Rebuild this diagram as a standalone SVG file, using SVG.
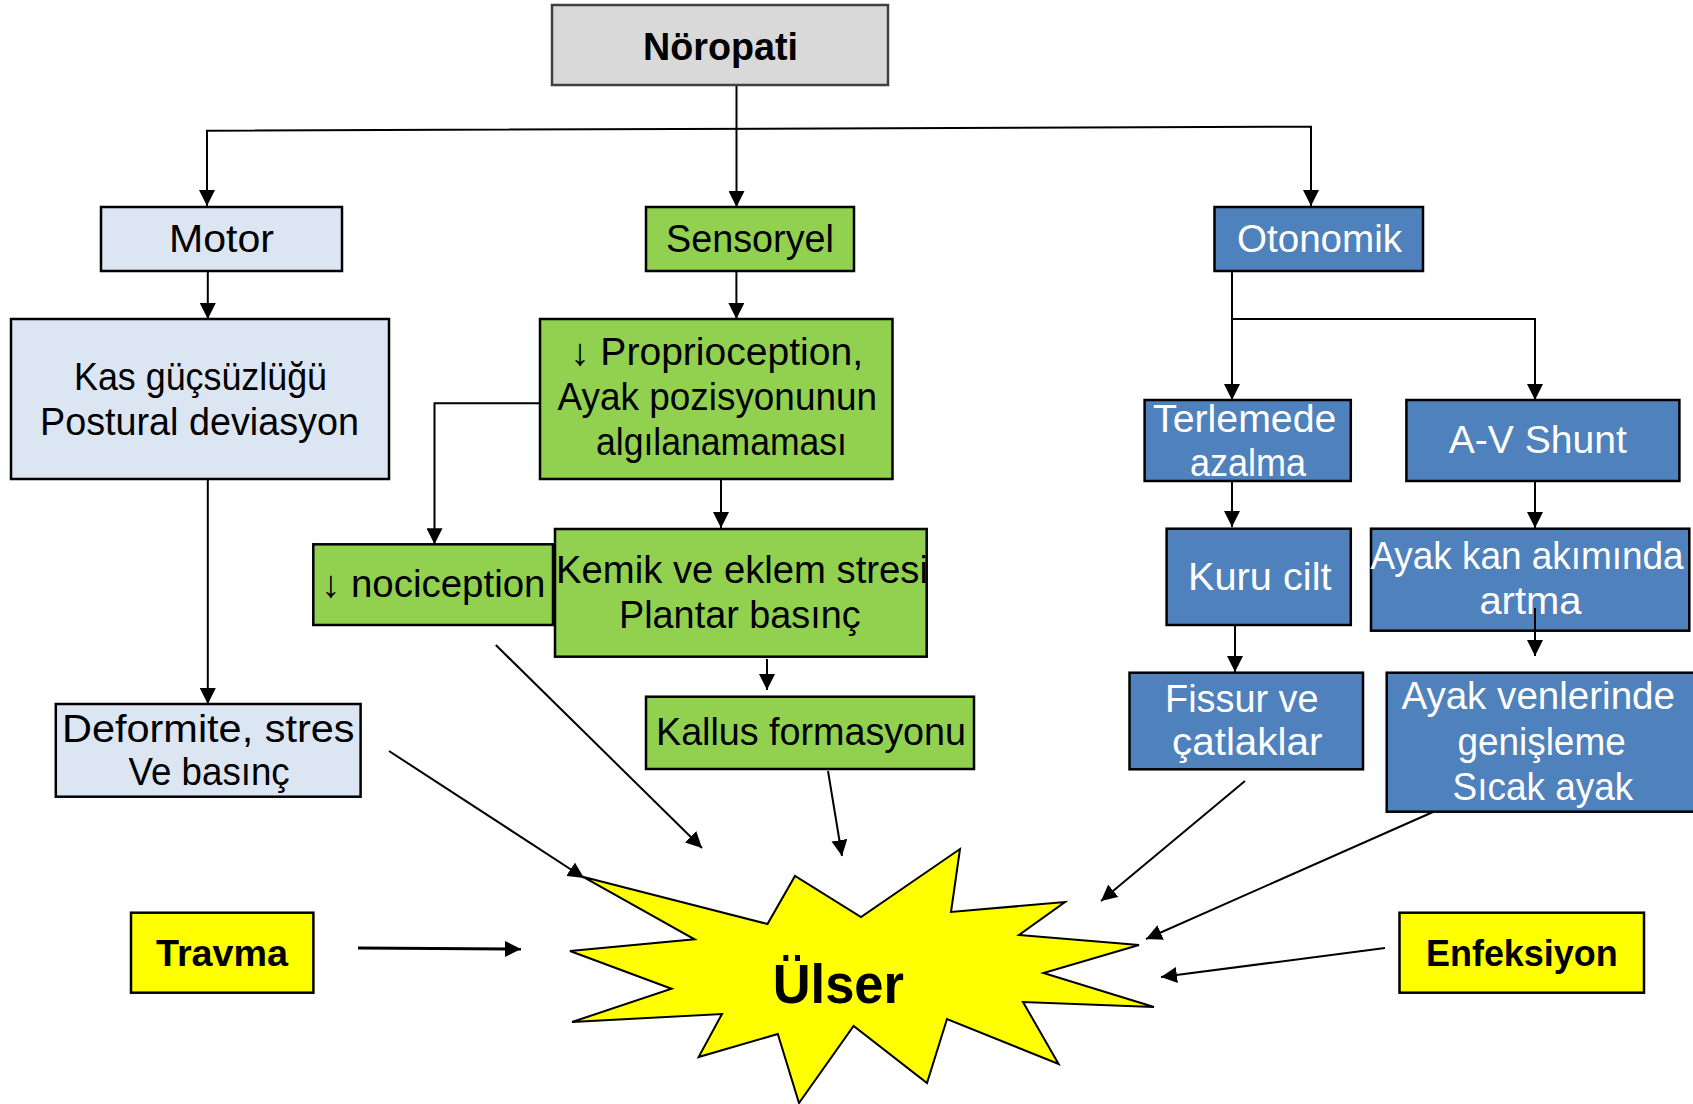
<svg xmlns="http://www.w3.org/2000/svg" width="1693" height="1104" viewBox="0 0 1693 1104">
<style>
.box{stroke:#000;stroke-width:2.5}
.gray{fill:#d9d9d9;stroke:#404040}
.lb{fill:#dce6f2}
.gr{fill:#92d050}
.bl{fill:#4f81bd}
.ye{fill:#ffff00}
.t{font-family:"Liberation Sans",Arial,sans-serif;font-size:38px;fill:#000}
.w{fill:#fff}
.b{font-weight:bold}
.c line,.c polyline{stroke:#000;stroke-width:2;fill:none}
</style>
<defs>
<marker id="ah" markerUnits="userSpaceOnUse" markerWidth="16" markerHeight="16" refX="16" refY="8" orient="auto">
<path d="M0,0 L16,8 L0,16 z" fill="#000"/>
</marker>
</defs>
<rect width="1693" height="1104" fill="#fff"/>

<g class="c">
<line x1="736.5" y1="85" x2="736.5" y2="207" marker-end="url(#ah)"/>
<polyline points="207,206 207,130.7 1311,126.7 1311,206" marker-end="url(#ah)"/>
<line x1="207" y1="131" x2="207" y2="206" marker-end="url(#ah)"/>
<line x1="207.8" y1="271" x2="207.8" y2="319" marker-end="url(#ah)"/>
<line x1="207.8" y1="479" x2="207.8" y2="704" marker-end="url(#ah)"/>
<line x1="736.4" y1="271" x2="736.4" y2="319" marker-end="url(#ah)"/>
<polyline points="540,403.3 434.5,403.3 434.5,544.3" marker-end="url(#ah)"/>
<line x1="721" y1="479" x2="721" y2="528" marker-end="url(#ah)"/>
<line x1="767" y1="659" x2="767" y2="690" marker-end="url(#ah)"/>
<line x1="389" y1="751" x2="584" y2="878" marker-end="url(#ah)"/>
<line x1="495.8" y1="645" x2="702" y2="848" marker-end="url(#ah)"/>
<line x1="828" y1="771" x2="842" y2="856" marker-end="url(#ah)"/>
<line x1="358" y1="948" x2="521" y2="949" style="stroke-width:3" marker-end="url(#ah)"/>
<line x1="1232" y1="271" x2="1232" y2="400" marker-end="url(#ah)"/>
<polyline points="1232,319 1535,319 1535,400" marker-end="url(#ah)"/>
<line x1="1232" y1="481" x2="1232" y2="527" marker-end="url(#ah)"/>
<line x1="1235" y1="625" x2="1235" y2="672" marker-end="url(#ah)"/>
<line x1="1535" y1="481" x2="1535" y2="528" marker-end="url(#ah)"/>
<line x1="1535" y1="608" x2="1535" y2="656" marker-end="url(#ah)"/>
<line x1="1245" y1="781" x2="1101" y2="901" marker-end="url(#ah)"/>
<line x1="1433" y1="812" x2="1146" y2="939" marker-end="url(#ah)"/>
<line x1="1385" y1="948" x2="1161" y2="977" marker-end="url(#ah)"/>
</g>

<g id="noropati">
<rect class="box gray" x="552" y="5" width="336" height="80"/>
<text class="t b" style="font-size:39px" x="643" y="60" textLength="155" lengthAdjust="spacingAndGlyphs">Nöropati</text>
</g>
<g id="motor">
<rect class="box lb" x="101" y="207" width="241" height="64"/>
<text class="t" x="169" y="252" textLength="105" lengthAdjust="spacingAndGlyphs">Motor</text>
</g>
<g id="sensoryel">
<rect class="box gr" x="646" y="207" width="208" height="64"/>
<text class="t" x="666" y="252" textLength="168" lengthAdjust="spacingAndGlyphs">Sensoryel</text>
</g>
<g id="otonomik">
<rect class="box bl" x="1214.5" y="207" width="208.5" height="64"/>
<text class="t w" x="1237" y="252" textLength="165" lengthAdjust="spacingAndGlyphs">Otonomik</text>
</g>
<g id="kas">
<rect class="box lb" x="11" y="319" width="378" height="160"/>
<text class="t" x="74" y="390" textLength="253" lengthAdjust="spacingAndGlyphs">Kas güçsüzlüğü</text>
<text class="t" x="40" y="435" textLength="319" lengthAdjust="spacingAndGlyphs">Postural deviasyon</text>
</g>
<g id="proprioception">
<rect class="box gr" x="540" y="319" width="352.5" height="160"/>
<text class="t" x="570" y="365" textLength="293" lengthAdjust="spacingAndGlyphs">↓ Proprioception,</text>
<text class="t" x="557.6" y="410" textLength="319.4" lengthAdjust="spacingAndGlyphs">Ayak pozisyonunun</text>
<text class="t" x="596" y="455" textLength="251" lengthAdjust="spacingAndGlyphs">algılanamaması</text>
</g>
<g id="nociception">
<rect class="box gr" x="313.3" y="544.3" width="239.7" height="80.7"/>
<text class="t" x="321" y="596.7" textLength="224.5" lengthAdjust="spacingAndGlyphs">↓ nociception</text>
</g>
<g id="kemik">
<rect class="box gr" x="555" y="529" width="371.7" height="127.7"/>
<text class="t" x="556" y="583.3" textLength="372" lengthAdjust="spacingAndGlyphs">Kemik ve eklem stresi</text>
<text class="t" x="619" y="628.3" textLength="241.6" lengthAdjust="spacingAndGlyphs">Plantar basınç</text>
</g>
<g id="kallus">
<rect class="box gr" x="646" y="696.7" width="328" height="72.3"/>
<text class="t" x="656" y="745" textLength="310" lengthAdjust="spacingAndGlyphs">Kallus formasyonu</text>
</g>
<g id="deformite">
<rect class="box lb" x="55.8" y="704" width="304.8" height="92.7"/>
<text class="t" x="62" y="741.7" textLength="292.5" lengthAdjust="spacingAndGlyphs">Deformite, stres</text>
<text class="t" x="128.5" y="785" textLength="161.2" lengthAdjust="spacingAndGlyphs">Ve basınç</text>
</g>
<g id="terlemede">
<rect class="box bl" x="1144.6" y="400" width="206.2" height="81"/>
<text class="t w" x="1153" y="431.7" textLength="183.4" lengthAdjust="spacingAndGlyphs">Terlemede</text>
<text class="t w" x="1190" y="475.7" textLength="116" lengthAdjust="spacingAndGlyphs">azalma</text>
</g>
<g id="kuru">
<rect class="box bl" x="1166.6" y="528.7" width="184.2" height="96.3"/>
<text class="t w" x="1188" y="590" textLength="143.5" lengthAdjust="spacingAndGlyphs">Kuru cilt</text>
</g>
<g id="fissur">
<rect class="box bl" x="1129.5" y="672.7" width="233.5" height="96.6"/>
<text class="t w" x="1165" y="711.7" textLength="153.6" lengthAdjust="spacingAndGlyphs">Fissur ve</text>
<text class="t w" x="1172" y="755" textLength="150.4" lengthAdjust="spacingAndGlyphs">çatlaklar</text>
</g>
<g id="avshunt">
<rect class="box bl" x="1406.4" y="400" width="273" height="81"/>
<text class="t w" x="1448.7" y="453.3" textLength="178.1" lengthAdjust="spacingAndGlyphs">A-V Shunt</text>
</g>
<g id="ayakkan">
<rect class="box bl" x="1371" y="528.7" width="318.3" height="102"/>
<text class="t w" x="1370.4" y="569.3" textLength="313.2" lengthAdjust="spacingAndGlyphs">Ayak kan akımında</text>
<text class="t w" x="1479.4" y="614" textLength="102.1" lengthAdjust="spacingAndGlyphs">artma</text>
</g>
<line x1="1535" y1="608" x2="1535" y2="631" stroke="#000" stroke-width="2"/>
<g id="ayakven">
<rect class="box bl" x="1386.7" y="672.7" width="310" height="139"/>
<text class="t w" x="1401.4" y="709.3" textLength="273.6" lengthAdjust="spacingAndGlyphs">Ayak venlerinde</text>
<text class="t w" x="1457.4" y="755" textLength="168.3" lengthAdjust="spacingAndGlyphs">genişleme</text>
<text class="t w" x="1452.5" y="800" textLength="180.8" lengthAdjust="spacingAndGlyphs">Sıcak ayak</text>
</g>
<g id="travma">
<rect class="box ye" x="131" y="912.7" width="182.4" height="80"/>
<text class="t b" style="font-size:36px" x="156" y="965.7" textLength="132" lengthAdjust="spacingAndGlyphs">Travma</text>
</g>
<g id="enfeksiyon">
<rect class="box ye" x="1399.5" y="912.7" width="244.5" height="80"/>
<text class="t b" style="font-size:36px" x="1426" y="965.7" textLength="191.7" lengthAdjust="spacingAndGlyphs">Enfeksiyon</text>
</g>
<g id="ulser">
<polygon points="582.7,876.7 767.5,924 795,876 861,917 960,849 951,912 1065,902 1019,935 1139,945 1043.5,973 1154,1007 1023,1002 1058.6,1064 947,1019 927,1083 853.6,1026 799,1103 777.8,1034 698.6,1057 722,1014 572,1022 671.6,988.7 570,951 694.6,939.3" fill="#ffff00" stroke="#000" stroke-width="2"/>
<text class="t b" style="font-size:55px" x="772.7" y="1003.3" textLength="131.3" lengthAdjust="spacingAndGlyphs">Ülser</text>
</g>
</svg>
